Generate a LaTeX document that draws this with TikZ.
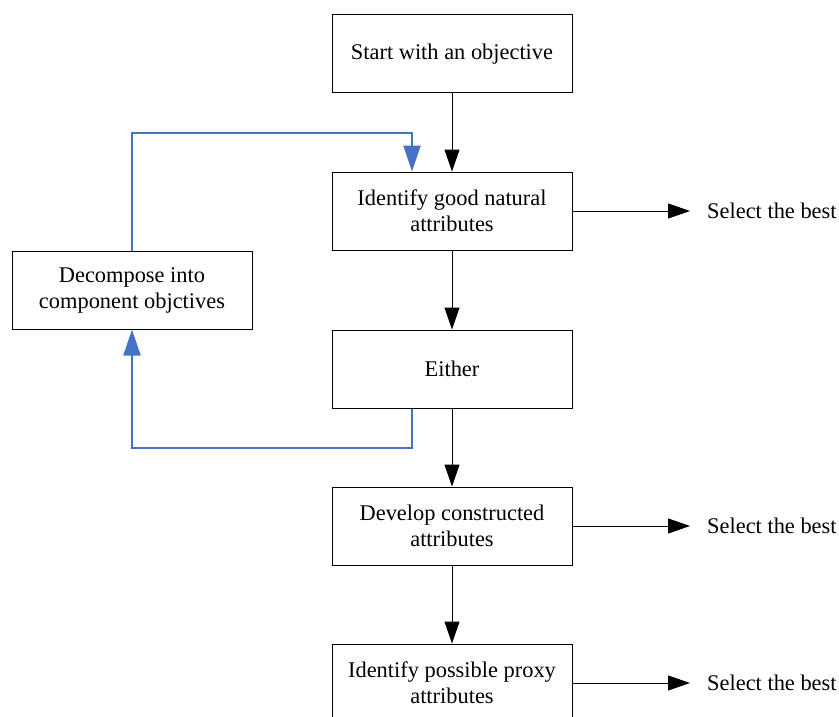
\documentclass[tikz,border=0pt]{standalone}
\usepackage{fontspec}
\setmainfont{Liberation Serif}
\usetikzlibrary{arrows.meta}
\definecolor{blueline}{HTML}{4472C4}
\begin{document}
\begin{tikzpicture}[x=1pt,y=-1pt,
  box/.style={draw=black, line width=1pt, minimum width=240pt, minimum height=78pt,
    align=center, font=\fontsize{22.4}{26}\selectfont, inner sep=0pt},
  flow/.style={draw=black, line width=1pt, -{Triangle[length=22pt,width=15pt]}},
  loopline/.style={draw=blueline, line width=2pt, -{Triangle[length=26pt,width=17pt]}},
  lbl/.style={anchor=west, font=\fontsize{22.4}{26}\selectfont, inner sep=0pt}]
\useasboundingbox (0,0) rectangle (839,717);
\node[box] (start) at (452,54) {Start with an objective};
\node[box] (gna) at (452,211) {Identify good natural\\attributes};
\node[box] (either) at (452,369) {Either};
\node[box] (dca) at (452,526) {Develop constructed\\attributes};
\node[box] (proxy) at (452,683) {Identify possible proxy\\attributes};
\node[box] (dec) at (132,290) {Decompose into\\component objctives};
\node[lbl] (sel1) at (707,211) {Select the best};
\node[lbl] (sel2) at (707,526) {Select the best};
\node[lbl] (sel3) at (707,683) {Select the best};
\draw[flow] (start) -- (gna);
\draw[flow] (gna) -- (either);
\draw[flow] (either) -- (dca);
\draw[flow] (dca) -- (proxy);
\draw[flow, shorten >=17pt] (gna.east) -- (sel1.west);
\draw[flow, shorten >=17pt] (dca.east) -- (sel2.west);
\draw[flow, shorten >=17pt] (proxy.east) -- (sel3.west);
\coordinate (t1) at (132,133);
\coordinate (t2) at (412,133);
\coordinate (b1) at (412,448);
\coordinate (b2) at (132,448);
\draw[loopline] (dec.north) -- (t1) -- (t2) -- (t2 |- gna.north);
\draw[loopline] (b1 |- either.south) -- (b1) -- (b2) -- (dec.south);
\end{tikzpicture}
\end{document}
